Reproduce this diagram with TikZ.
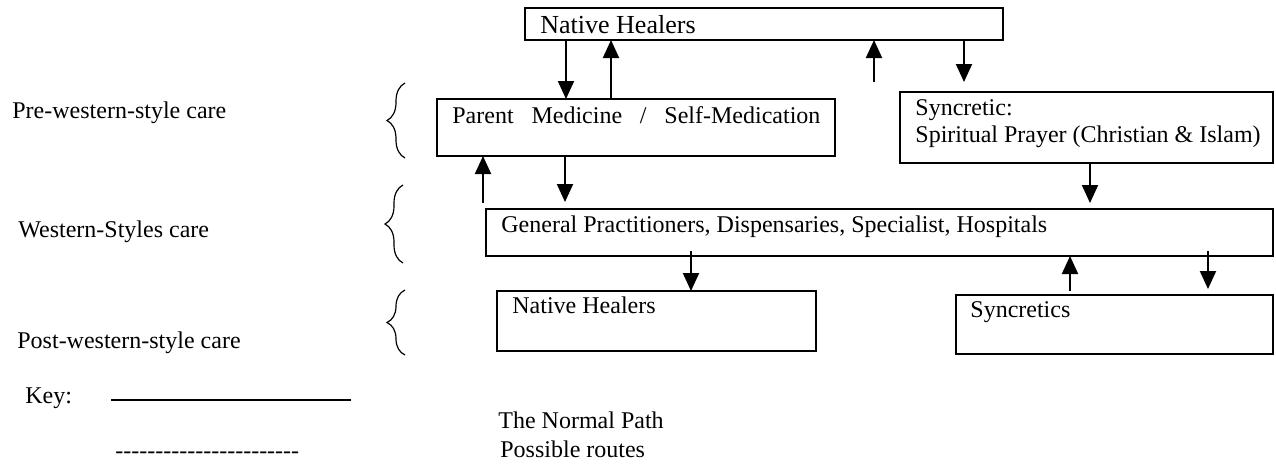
\documentclass[tikz,border=0pt]{standalone}
\usepackage{fontspec}
\setmainfont{Liberation Serif}
\usetikzlibrary{arrows.meta,decorations.pathreplacing}
\begin{document}
\begin{tikzpicture}[x=0.5pt,y=-0.5pt,
  box/.style={draw, line width=1.1pt, inner sep=0pt, outer sep=0pt, anchor=north west},
  lbl/.style={anchor=base west, inner sep=0pt, font=\fontsize{12}{14}\selectfont},
  arr/.style={line width=1pt, -{Triangle[width=8pt,length=9pt]}},
  bracey/.style={line width=0.6pt, decorate, decoration={brace, amplitude=9pt}}]
\useasboundingbox (0,0) rectangle (1276,463);

% boxes
\node[box, minimum width=239pt, minimum height=16pt] (nhTop) at (525,8) {};
\node[box, minimum width=199pt, minimum height=28.5pt] (pm) at (437,99) {};
\node[box, minimum width=186.5pt, minimum height=35.5pt] (syn) at (900,92) {};
\node[box, minimum width=393.5pt, minimum height=23.5pt] (gp) at (486,209) {};
\node[box, minimum width=159.5pt, minimum height=30pt] (nhb) at (497,291) {};
\node[box, minimum width=158.5pt, minimum height=29.5pt] (sy2) at (956,295) {};

% box texts
\node[lbl] (tnhTop) at (540,33) {\fontsize{13}{15}\selectfont Native Healers};
\node[lbl] (tpm) at (452,123) {\makebox[184pt][s]{Parent\hfill Medicine\hfill /\hfill Self-Medication}};
\node[lbl] (tsyn1) at (915,115) {Syncretic:};
\node[lbl] (tsyn2) at (915,142) {Spiritual Prayer (Christian \& Islam)};
\node[lbl] (tgp) at (501,232) {General Practitioners, Dispensaries, Specialist, Hospitals};
\node[lbl] (tnhb) at (512,313) {Native Healers};
\node[lbl] (tsy2) at (970,317) {Syncretics};

% side labels
\node[lbl] (lpre) at (12,118) {Pre-western-style care};
\node[lbl] (lwes) at (18,237) {Western-Styles care};
\node[lbl] (lpost) at (17,348) {Post-western-style care};

% braces
\draw[bracey] (405,158) -- (405,83);
\draw[bracey] (403,263) -- (403,185);
\draw[bracey] (405,355) -- (405,290);

% free ends
\coordinate (c1) at (874,82);
\coordinate (c2) at (964,82);
\coordinate (c3) at (483,203);
\coordinate (c4) at (565,202);
\coordinate (c5) at (1090,203);
\coordinate (c6) at (691,251);
\coordinate (c7) at (1070,291);
\coordinate (c8) at (1208,251);
\coordinate (c9) at (1208,289);

% arrows
\draw[arr] (566,0 |- nhTop.south) -- (566,0 |- pm.north);
\draw[arr] (611,0 |- pm.north) -- (611,0 |- nhTop.south);
\draw[arr] (c1) -- (874,0 |- nhTop.south);
\draw[arr] (964,0 |- nhTop.south) -- (c2);
\draw[arr] (c3) -- (483,0 |- pm.south);
\draw[arr] (565,0 |- pm.south) -- (c4);
\draw[arr] (1090,0 |- syn.south) -- (c5);
\draw[arr] (c6) -- (691,0 |- nhb.north);
\draw[arr] (c7) -- (1070,0 |- gp.south);
\draw[arr] (c8) -- (c9);

% key
\node[lbl] (key) at (25,403) {Key:};
\coordinate (k1) at (111,400);
\coordinate (k2) at (351,400);
\draw[line width=1pt] (k1) -- (k2);
\node[lbl] (kdash) at (115,458) {-{}-{}-{}-{}-{}-{}-{}-{}-{}-{}-{}-{}-{}-{}-{}-{}-{}-{}-{}-{}-{}-{}-{}};
\node[lbl] (knorm) at (498,428) {The Normal Path};
\node[lbl] (kposs) at (500,457) {Possible routes};
\end{tikzpicture}
\end{document}
